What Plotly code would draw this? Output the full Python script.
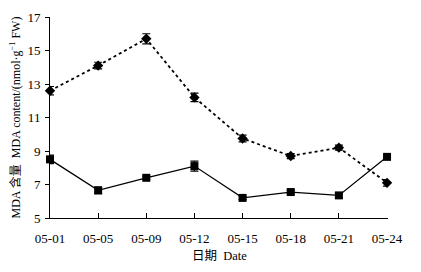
import plotly.graph_objects as go

dates = ["05-01", "05-05", "05-09", "05-12", "05-15", "05-18", "05-21", "05-24"]
dotted_vals = [12.6, 14.1, 15.7, 12.2, 9.75, 8.7, 9.2, 7.1]
dotted_err = [0.25, 0.2, 0.3, 0.25, 0.2, 0.15, 0.15, 0.2]
solid_vals = [8.5, 6.65, 7.4, 8.1, 6.2, 6.55, 6.35, 8.65]
solid_err = [0.25, 0.2, 0.1, 0.3, 0.1, 0.1, 0.15, 0.1]
y_ticks = [5, 7, 9, 11, 13, 15, 17]

xs = list(range(len(dates)))
font = "Liberation Serif, Times New Roman, Noto Sans CJK SC, serif"

fig = go.Figure()
fig.add_trace(go.Scatter(
    x=xs, y=dotted_vals, mode="lines+markers",
    line=dict(color="black", width=1.8, dash="dot"),
    marker=dict(symbol="diamond", size=8, color="black"),
    error_y=dict(type="data", array=dotted_err, color="black", thickness=1.2, width=4),
    cliponaxis=False, showlegend=False))
fig.add_trace(go.Scatter(
    x=xs, y=solid_vals, mode="lines+markers",
    line=dict(color="black", width=1.3),
    marker=dict(symbol="square", size=8, color="black"),
    error_y=dict(type="data", array=solid_err, color="black", thickness=1.2, width=4),
    cliponaxis=False, showlegend=False))

fig.update_layout(
    width=405, height=256,
    margin=dict(l=42, r=25, t=9, b=46),
    plot_bgcolor="white", paper_bgcolor="white",
    font=dict(family=font, size=13, color="black"),
    xaxis=dict(
        tickmode="array", tickvals=xs, ticktext=dates,
        range=[0, 7.02], showline=True, linecolor="black", linewidth=1,
        ticks="inside", ticklen=5, tickcolor="black", showgrid=False, zeroline=False,
        ticklabelstandoff=8, automargin=False,
    ),
    yaxis=dict(
        tickmode="array", tickvals=y_ticks, range=[5, 17],
        showline=True, linecolor="black", linewidth=1,
        ticks="outside", ticklen=4, tickcolor="black", showgrid=False, zeroline=False,
        ticklabelstandoff=2, automargin=False,
    ),
    annotations=[
        dict(text="MDA 含量  MDA content/(nmol·g<sup>−1</sup> FW)", textangle=-90,
             xref="paper", yref="paper", x=0, y=0.5, xanchor="center", yanchor="middle",
             xshift=-35, showarrow=False, font=dict(size=12)),
        dict(text="日期  Date", xref="paper", yref="paper", x=0.5, y=0,
             xanchor="center", yanchor="middle", yshift=-38, showarrow=False,
             font=dict(size=12.5)),
    ],
)

fig.write_html("out.html")
